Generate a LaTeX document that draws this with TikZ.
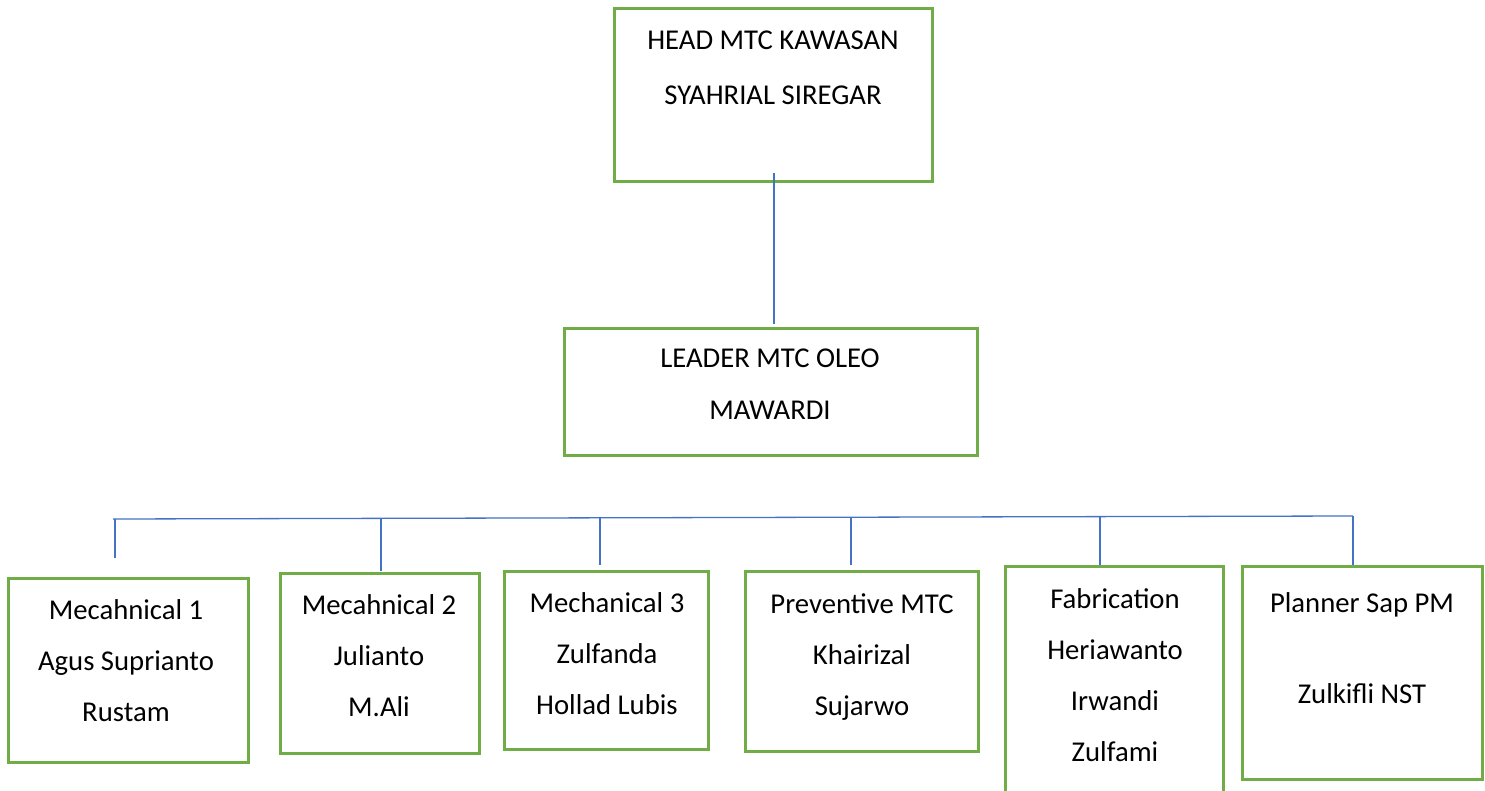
\documentclass[tikz,border=0pt]{standalone}
\usepackage{fontspec}
\setmainfont{Carlito}
\definecolor{boxgreen}{HTML}{70AD47}
\definecolor{linkblue}{HTML}{4472C4}

\begin{document}
\begin{tikzpicture}[x = 1pt, y = -1pt]

\tikzstyle{box}=[draw=boxgreen, line width=3pt, inner sep=0pt]
\tikzstyle{txt}=[align=center, font=\fontsize{28.7}{51}\selectfont]
\tikzstyle{link}=[draw=linkblue, line width=1.3pt]

\useasboundingbox (0,0) rectangle (1485,791);

% boxes
\node (head)   [box, minimum width=318pt, minimum height=173pt] at (773,95.5) {};
\node (leader) [box, minimum width=413pt, minimum height=126pt] at (770.5,392) {};
\node (m1)     [box, minimum width=240pt, minimum height=184pt] at (128,670) {};
\node (m2)     [box, minimum width=199pt, minimum height=180pt] at (379.5,663) {};
\node (m3)     [box, minimum width=204pt, minimum height=178pt] at (606,660) {};
\node (prev)   [box, minimum width=233pt, minimum height=180pt] at (861.5,661) {};
\node (fab)    [box, minimum width=218pt, minimum height=226pt] at (1114,679) {};
\node (plan)   [box, minimum width=240pt, minimum height=213pt] at (1362,672.5) {};

% texts
\node (headtxt)   [txt] at (773,68)     {HEAD MTC KAWASAN\\[4pt]SYAHRIAL SIREGAR};
\node (leadertxt) [txt] at (770,384.5)  {LEADER MTC OLEO\\[1pt]MAWARDI};
\node (m1txt)     [txt] at (126,661)    {Mecahnical 1\\Agus Suprianto\\Rustam};
\node (m2txt)     [txt] at (379,655.5)  {Mecahnical 2\\Julianto\\M.Ali};
\node (m3txt)     [txt] at (607,654)    {Mechanical 3\\Zulfanda\\Hollad Lubis};
\node (prevtxt)   [txt] at (862,657)    {Preventive MTC\\Khairizal\\Sujarwo};
\node (fabtxt)    [txt] at (1115,675)   {Fabrication\\Heriawanto\\Irwandi\\Zulfami};
\node (plantxt)   [txt] at (1362,648)   {Planner Sap PM\\[40pt]Zulkifli NST};

% head to leader
\draw [link] ([xshift=1pt, yshift=10.5pt]head.south) -- ([xshift=3.5pt, yshift=3.5pt]leader.north);

% bus and drops
\foreach \n/\x/\y in {1/115/519, 2/381/518.4, 3/600/517.8, 4/851/517.2, 5/1100/516.6, 6/1353/516}
  \coordinate (top\n) at (\x,\y);
\draw [link] ([xshift=-2pt]top1) -- (top6);
\draw [link, shorten >=18.5pt] (top1) -- (top1 |- m1.north);
\draw [link, shorten >=0.5pt] (top2) -- (top2 |- m2.north);
\draw [link, shorten >=4.5pt] (top3) -- (top3 |- m3.north);
\draw [link, shorten >=4.5pt] (top4) -- (top4 |- prev.north);
\draw [link] (top5) -- (top5 |- fab.north);
\draw [link] (top6) -- (top6 |- plan.north);

\end{tikzpicture}
\end{document}
